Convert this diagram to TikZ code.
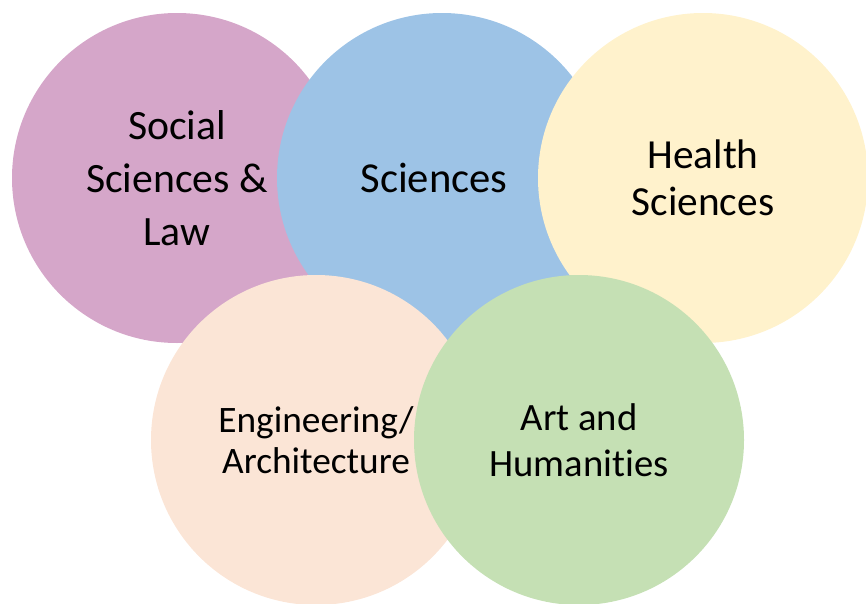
\documentclass[tikz,border=0pt]{standalone}
\usepackage{fontspec}
\setmainfont{Carlito}[Ligatures=NoCommon]
\definecolor{lawpink}{HTML}{D5A6C9}
\definecolor{sciblue}{HTML}{9DC3E6}
\definecolor{healthyellow}{HTML}{FFF2CC}
\definecolor{engpeach}{HTML}{FBE5D6}
\definecolor{artgreen}{HTML}{C5E0B4}
\begin{document}
\begin{tikzpicture}[x=0.75pt, y=-0.75pt,
        field/.style={circle, minimum size=247.5pt, inner sep=0pt, outer sep=0pt, align=center}]
        \useasboundingbox (0, 0) rectangle (866, 603);
        \node[field, fill=lawpink, font=\fontsize{31.3}{39.75}\selectfont] (law) at (177, 178) {Social\\Sciences \&\\Law};
        \node[field, fill=sciblue, font=\fontsize{32}{35}\selectfont] (sci) at (442, 178) {Sciences\hspace*{12pt}};
        \node[field, fill=healthyellow, font=\fontsize{31}{35}\selectfont] (health) at (703, 178) {Health\\Sciences};
        \node[field, fill=engpeach, font=\fontsize{28}{30.75}\selectfont] (eng) at (316, 440) {Engineering/\\Architecture};
        \node[field, fill=artgreen, font=\fontsize{29}{34.5}\selectfont] (art) at (579, 440) {Art and\\Humanities};
    \end{tikzpicture}
\end{document}
